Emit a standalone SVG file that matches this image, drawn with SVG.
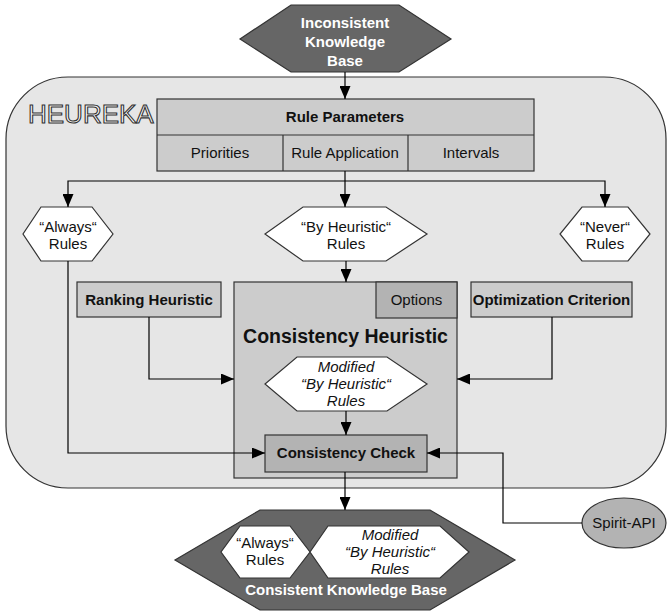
<svg xmlns="http://www.w3.org/2000/svg" width="667" height="611" viewBox="0 0 667 611">
  <defs>
    <marker id="arrow" markerUnits="userSpaceOnUse" markerWidth="13" markerHeight="11" refX="13" refY="5.5" orient="auto">
      <path d="M0,0 L13,5.5 L0,11 z" fill="#000"/>
    </marker>
    <style>
      text { font-family: "Liberation Sans", Arial, sans-serif; font-size: 15px; text-anchor: middle; fill: #111; }
      .b { font-weight: bold; }
      .i { font-style: italic; }
      .w { fill: #fff; }
      .box { stroke: #333; stroke-width: 1.2; }
      .light { fill: #cccccc; }
      .mid { fill: #b3b3b3; }
      .dark { fill: #666666; }
      .hex { fill: #fff; stroke: #333; stroke-width: 1.2; }
      .conn { fill: none; stroke: #000; stroke-width: 1.2; marker-end: url(#arrow); }
      .line { fill: none; stroke: #000; stroke-width: 1.2; }
    </style>
  </defs>

  <!-- HEUREKA frame -->
  <g id="heureka">
    <rect x="6" y="77" width="660" height="411" rx="62" ry="62" fill="#e6e6e6" stroke="#333" stroke-width="1.2"/>
    <text x="28" y="123" style="text-anchor:start; font-size:26px; fill:#fff; stroke:#333; stroke-width:1.1">HEUREKA</text>
  </g>

  <!-- Input knowledge base -->
  <g id="inconsistent-kb">
    <polygon class="box dark" points="291,5 399,5 451,39 399,72 291,72 240,39"/>
    <text class="b w" x="345" y="27.5">Inconsistent</text>
    <text class="b w" x="345" y="46.5">Knowledge</text>
    <text class="b w" x="345" y="65.5">Base</text>
  </g>

  <!-- Rule parameters table -->
  <g id="rule-parameters">
    <rect class="box light" x="157" y="99" width="377" height="72"/>
    <line class="box" x1="157" y1="135" x2="534" y2="135"/>
    <line class="box" x1="283" y1="135" x2="283" y2="171"/>
    <line class="box" x1="408" y1="135" x2="408" y2="171"/>
    <text class="b" x="345" y="122">Rule Parameters</text>
    <text x="220" y="158">Priorities</text>
    <text x="345" y="158">Rule Application</text>
    <text x="471" y="158">Intervals</text>
  </g>

  <g id="always-rules">
    <polygon class="hex" points="41,207 92,207 113,234 92,261 41,261 23,234"/>
    <text x="68" y="232">“Always“</text>
    <text x="68" y="249">Rules</text>
  </g>

  <g id="by-heuristic-rules">
    <polygon class="hex" points="303,207 386,207 427,234 386,261 303,261 265,234"/>
    <text x="346" y="232">“By Heuristic“</text>
    <text x="346" y="249">Rules</text>
  </g>

  <g id="never-rules">
    <polygon class="hex" points="582,207 628,207 650,234 628,261 582,261 560,234"/>
    <text x="605" y="232">“Never“</text>
    <text x="605" y="249">Rules</text>
  </g>

  <g id="ranking-heuristic">
    <rect class="box light" x="77" y="282" width="144" height="35"/>
    <text class="b" x="149" y="305">Ranking Heuristic</text>
  </g>

  <g id="optimization-criterion">
    <rect class="box light" x="471" y="282" width="161" height="35"/>
    <text class="b" x="551.5" y="305">Optimization Criterion</text>
  </g>

  <g id="consistency-heuristic">
    <rect class="box light" x="234" y="282" width="223" height="196"/>
    <rect class="box mid" x="376" y="282" width="81" height="36"/>
    <text x="416.5" y="305">Options</text>
    <text class="b" x="345.5" y="343" style="font-size:19.5px">Consistency Heuristic</text>
  </g>

  <g id="modified-rules">
    <polygon class="hex" points="297,357 387,357 427,384 387,411 297,411 265,384"/>
    <text class="i" x="346" y="372">Modified</text>
    <text class="i" x="346" y="389">“By Heuristic“</text>
    <text class="i" x="346" y="406">Rules</text>
  </g>

  <g id="consistency-check">
    <rect class="box mid" x="265" y="435" width="162" height="37"/>
    <text class="b" x="346" y="458">Consistency Check</text>
  </g>

  <g id="spirit-api">
    <ellipse class="box mid" cx="624" cy="523" rx="42" ry="25"/>
    <text x="624" y="528">Spirit-API</text>
  </g>

  <!-- Output knowledge base -->
  <g id="consistent-kb">
    <polygon class="box dark" points="260,510 430,510 515,560 430,610 260,610 175,560"/>
    <polygon class="hex" points="240,526 290,526 310,552 290,578 240,578 221,552"/>
    <text x="265" y="548">“Always“</text>
    <text x="265" y="565">Rules</text>
    <polygon class="hex" points="328,526 440,526 469,552 440,578 328,578 310,552"/>
    <text class="i" x="390" y="540">Modified</text>
    <text class="i" x="390" y="557">“By Heuristic“</text>
    <text class="i" x="390" y="574">Rules</text>
    <text class="b w" x="346" y="595">Consistent Knowledge Base</text>
  </g>

  <!-- Connectors -->
  <g id="connectors">
    <path class="conn" d="M345,72 V99"/>
    <path class="line" d="M345,171 V181"/>
    <path class="conn" d="M345,181 V207"/>
    <path class="conn" d="M345,181 H68 V207"/>
    <path class="conn" d="M345,181 H605 V207"/>
    <path class="conn" d="M346,261 V282"/>
    <path class="conn" d="M149,317 V379 H234"/>
    <path class="conn" d="M552,317 V379 H457"/>
    <path class="conn" d="M346,411 V435"/>
    <path class="conn" d="M68,261 V453 H265"/>
    <path class="conn" d="M582,523 H503 V453 H427"/>
    <path class="conn" d="M345,472 V510"/>
  </g>
</svg>
